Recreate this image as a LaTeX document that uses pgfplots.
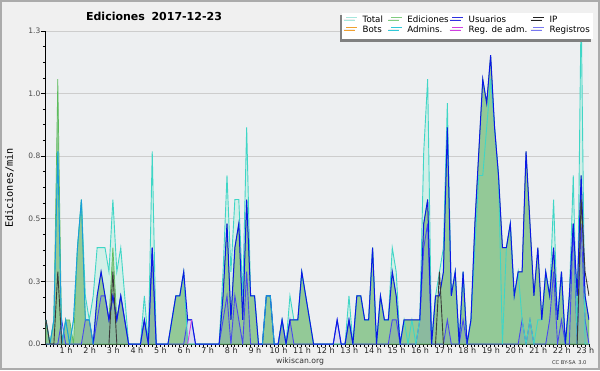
\documentclass[border=0pt]{standalone}
\usepackage{pgfplots}
\pgfplotsset{compat=1.18}
\usepackage{pgfplotstable}
\usepackage{fontspec}
\setmainfont{DejaVu Sans}
\setmonofont{DejaVu Sans Mono}
\usetikzlibrary{shadows}
\definecolor{outerbg}{HTML}{F0F0F0}
\definecolor{framec}{HTML}{ABABAB}
\definecolor{plotbg}{HTML}{EDEFF1}
\definecolor{gridc}{HTML}{CDCDCD}
\definecolor{mint}{HTML}{D2EFE8}
\definecolor{greenfill}{HTML}{93C997}
\definecolor{greenline}{HTML}{5CBC5C}
\definecolor{turq}{HTML}{3FD6C6}
\definecolor{dblue}{HTML}{0A18E6}
\definecolor{mblue}{HTML}{4848F0}
\definecolor{dfill}{HTML}{5A5AD8}
\definecolor{cblue}{HTML}{1A9ED8}
\definecolor{ipc}{HTML}{3A3A3A}
\definecolor{magc}{HTML}{D040E0}
\definecolor{lgTotal}{HTML}{A6E6DC}
\definecolor{lgEdic}{HTML}{80CC80}
\definecolor{lgUsu}{HTML}{3030E0}
\definecolor{lgIP}{HTML}{202020}
\definecolor{lgBots}{HTML}{F0A030}
\definecolor{lgAdm}{HTML}{30C8D8}
\definecolor{lgReg}{HTML}{D040E0}
\definecolor{lgRegis}{HTML}{7878F0}

\pgfplotstableread{
x T B C D
0 0.1 0.1 nan 0
1 0 0 nan 0
2 0.1 0.1 nan 0
3 0.8 1.1 nan 0
4 0 0 nan 0.1
5 0.1 0.1 nan 0
6 0 0.1 nan 0
7 0.1 0 nan 0
8 0.4 0.4 nan 0
9 0.6 0.6 nan 0
10 0.2 0.1 nan 0.1
11 0.1 0.1 nan 0.1
12 0.2 0 0 0
13 0.4 0.2 0.2 0.1
14 0.4 0.3 0.3 0.2
15 0.4 0.2 0.2 0.2
16 0.3 0.1 0.1 0.1
17 0.6 0.4 0.2 0.2
18 0.3 0.1 0.1 0.1
19 0.4 0.2 0.2 0.2
20 0.2 0.1 0.1 0.1
21 0 0 0 0
22 0 0 0 0
23 0 0 0 0
24 0 0 0 0
25 0.2 0.1 0.1 0.1
26 0 0 0 0
27 0.8 0.4 0.4 0.4
28 0 0 0 0
29 0 0 0 0
30 0 0 0 0
31 0 0 0 0
32 0.1 0.1 0.1 0
33 0.2 0.2 0.2 0
34 0.2 0.2 0.2 0
35 0.3 0.3 0.3 0
36 0 0 0.1 0.1
37 0 0 0.1 0.1
38 0 0 0 0
39 0 0 0 0
40 0 0 0 0
41 0 0 0 0
42 0 0 0 0
43 0 0 0 0
44 0 0 0 0
45 0.3 0.2 0.2 0.1
46 0.7 0.5 0.5 0.2
47 0.3 0.1 0.1 0
48 0.6 0.4 0.4 0.2
49 0.6 0.5 0.5 0.1
50 0.2 0.1 0.1 0
51 0.9 0.6 0.6 0.3
52 0.2 0.2 0.2 0
53 0.2 0.2 0.2 0
54 0 0 0 0
55 0 0 0 0
56 0.2 0.2 0.2 0
57 0.2 0.2 0.2 0
58 0 0 0 0
59 0 0 0 0
60 0.1 0.1 0.1 0.1
61 0 0 0 0
62 0.2 0.1 0.1 0.1
63 0.1 0.1 0.1 0
64 0.1 0.1 0.1 0
65 0.3 0.3 0.3 0
66 0.2 0.2 0.2 0
67 0.1 0.1 0.1 0
68 0 0 0 0
69 0 0 0 0
70 0 0 0 0
71 0 0 0 0
72 0 0 0 0
73 0 0 0 0
74 0 0 0.1 0.1
75 0 0 0 0
76 0 0 0 0
77 0.2 0.1 0.1 0.1
78 0 0 0 0
79 0.2 0.2 0.2 0
80 0.2 0.2 0.2 0
81 0.1 0.1 0.1 0
82 0.1 0.1 0.1 0
83 0.4 0.4 0.4 0
84 0 0 0 0
85 0.2 0.2 0.2 0
86 0.1 0.1 0.1 0
87 0.1 0.1 0.1 0
88 0.4 0.3 0.3 0.1
89 0.3 0.2 0.2 0.1
90 0 0 0 0
91 0.1 0.1 0.1 0
92 0 0.1 0.1 0
93 0.1 0.1 0.1 0
94 0 0.1 0.1 0
95 0.1 0.1 0.1 0.1
96 0.8 0.5 0.5 0.4
97 1.1 0.6 0.6 0.5
98 0 0 0 0
99 0.2 0.2 0.2 0
100 0.3 0.2 0.2 0
101 0.4 0.3 0.3 0
102 1.0 0.9 0.9 0.1
103 0.2 0.2 0.2 0
104 0.3 0.3 0.3 0
105 0 0 0 0
106 0.3 0.3 0.3 0.1
107 0 0 0 0
108 0.1 0.1 0.1 0
109 0.4 0.5 0.5 0
110 0.7 0.8 0.8 0
111 0.7 1.1 1.1 0
112 0.9 1.0 1.0 0
113 1.1 1.2 1.2 0
114 0.9 0.9 0.9 0
115 0.7 0.7 0.7 0
116 0 0.4 0.4 0
117 0.4 0.4 0.4 0
118 0.5 0.5 0.5 0
119 0.2 0.2 0.2 0
120 0.3 0.3 0.3 0
121 0.1 0.3 0.3 0.1
122 0 0.8 0.8 0
123 0.1 0.5 0.5 0.1
124 0 0.2 0.2 0
125 0.1 0.4 0.4 0
126 0.1 0.1 0.1 0
127 0.3 0.3 0.3 0
128 0.2 0.2 0.2 0.1
129 0.6 0.4 0.4 0.3
130 0.1 0.1 0.1 0
131 0.3 0.3 0.3 0.1
132 0 0 0 0
133 0.2 0.2 0.2 0
134 0.7 0.5 0.5 0.5
135 0 0.2 0.2 0
136 1.4 0.7 0.7 0.5
137 0 0.2 0.2 0.1
138 0 0.1 0.1 0
}\data

\pgfplotsset{layers/mylayers/.define layer set={axis background,axis grid,main,axis ticks,axis lines,axis tick labels,axis descriptions,axis foreground}{}}

\begin{document}
\begin{tikzpicture}
\fill[outerbg] (-46pt,-26pt) rectangle (554pt,344pt);
\draw[framec, line width=2pt] (-45pt,-25pt) rectangle (553pt,343pt);
\begin{axis}[
  set layers=mylayers,
  at={(0pt,0pt)}, anchor=south west,
  scale only axis, width=543pt, height=313pt,
  xmin=0, xmax=138, ymin=0, ymax=1.3,
  enlargelimits=false,
  axis x line=bottom, axis y line=left,
  axis line style={-, black, line width=1pt},
  axis background/.style={fill=plotbg},
  tick align=outside,
  major tick length=5pt, minor tick length=3pt,
  ytick={0,0.26,0.52,0.78,1.04,1.3},
  yticklabels={0.0,0.3,0.5,0.8,1.0,1.3},
  minor y tick num=3,
  xtick={5.09,11.09,17.09,23.09,29.09,35.09,41.09,47.09,53.09,59.09,65.09,71.09,77.09,83.09,89.09,95.09,101.09,107.09,113.09,119.09,125.09,131.09,137.09},
  xticklabels={1 h,2 h,3 h,4 h,5 h,6 h,7 h,8 h,9 h,10 h,11 h,12 h,13 h,14 h,15 h,16 h,17 h,18 h,19 h,20 h,21 h,22 h,23 h},
  minor xtick={0,1,...,138},
  major x tick style={draw=none},
  minor x tick style={black, line width=0.8pt},
  ytick style={black, line width=0.8pt},
  ymajorgrids, grid style={gridc, line width=0.8pt},
  yticklabel style={font=\fontsize{7.5}{8}\selectfont, text=black!70, inner sep=0pt, anchor=east, xshift=-0.5pt},
  xticklabel style={font=\fontsize{8}{9}\selectfont, text=black!85, inner sep=0pt, anchor=base, yshift=-4.5pt},
  legend columns=4,
  legend cell align=left,
  legend image code/.code={\draw[#1, line width=1pt] (0pt,3.5pt) -- (11pt,3.5pt);},
  legend style={at={(1.0079,1.0597)}, anchor=north east, fill=white, draw=none,
    font=\fontsize{8.7}{10}\selectfont, inner xsep=3.3pt, inner ysep=3.4pt,
    row sep=0pt, column sep=0pt,
    nodes={inner sep=0pt, text height=7pt, text depth=3pt},
    /tikz/every odd column/.append style={column sep=5pt},
    drop shadow={shadow xshift=-2.5pt, shadow yshift=-2.5pt, fill=black!50, opacity=1}},
  unbounded coords=jump,
]
\addlegendimage{lgTotal}
\addlegendimage{lgEdic}
\addlegendimage{lgUsu}
\addlegendimage{lgIP}
\addlegendimage{lgBots}
\addlegendimage{lgAdm}
\addlegendimage{lgReg}
\addlegendimage{lgRegis}
\legend{\makebox[27.7pt][l]{Total},\makebox[44.3pt][l]{Ediciones},\makebox[64pt][l]{Usuarios},IP,\makebox[27.7pt][l]{Bots},\makebox[44.3pt][l]{Admins.},\makebox[64pt][l]{Reg. de adm.},Registros}

\addplot[fill=mint, draw=none, forget plot] table[x=x,y=T]{\data} \closedcycle;
\addplot[fill=greenfill, draw=greenline, line width=0.7pt, forget plot] table[x=x,y=B]{\data} \closedcycle;
\addplot[fill=dfill, fill opacity=0.13, draw=none, forget plot] table[x=x,y=D]{\data} \closedcycle;
\addplot[mblue, line width=0.9pt, forget plot] table[x=x,y=D]{\data};
\addplot[turq, line width=0.9pt, forget plot] table[x=x,y=T]{\data};
\addplot[dblue, line width=1pt, forget plot] table[x=x,y=C]{\data};
\addplot[cblue, line width=0.9pt, forget plot] coordinates {(0,0.1) (1,0) (2,0.1) (3,0.8) (4,0) (5,0.1) (6,0) (7,0.1) (8,0.4) (9,0.6) (10,0.1) (11,0.1) (12,0) (13,nan) (55,0) (56,0.2) (57,0.2) (58,0)};
\addplot[ipc, line width=0.9pt, forget plot] coordinates {(0,0.1) (1,0) (2,0) (3,0.3) (4,0) (5,nan) (16,0) (17,0.3) (18,0) (19,nan) (99,0) (100,0.3) (101,0) (102,nan) (135,0) (136,0.6) (137,0.3) (138,0.2)};
\addplot[magc, line width=0.9pt, forget plot] coordinates {(36,0) (37,0.1)};
\end{axis}
\node[font=\bfseries\fontsize{11}{12}\selectfont, anchor=base, inner sep=0pt] at (108pt,323.3pt) {Ediciones\hspace{0.6em}2017-12-23};
\node[font=\ttfamily\fontsize{10.2}{11}\selectfont, rotate=90, inner sep=0pt] at (-36.5pt,156pt) {Ediciones/min};
\node[font=\fontsize{7.7}{8}\selectfont, anchor=base, inner sep=0pt, text=black!80] at (254pt,-19pt) {wikiscan.org};
\node[font=\fontsize{5.2}{6}\selectfont, anchor=base, inner sep=0pt, text=black!80] at (523.3pt,-20pt) {CC BY-SA\hspace{0.5em}3.0};
\end{tikzpicture}
\end{document}
